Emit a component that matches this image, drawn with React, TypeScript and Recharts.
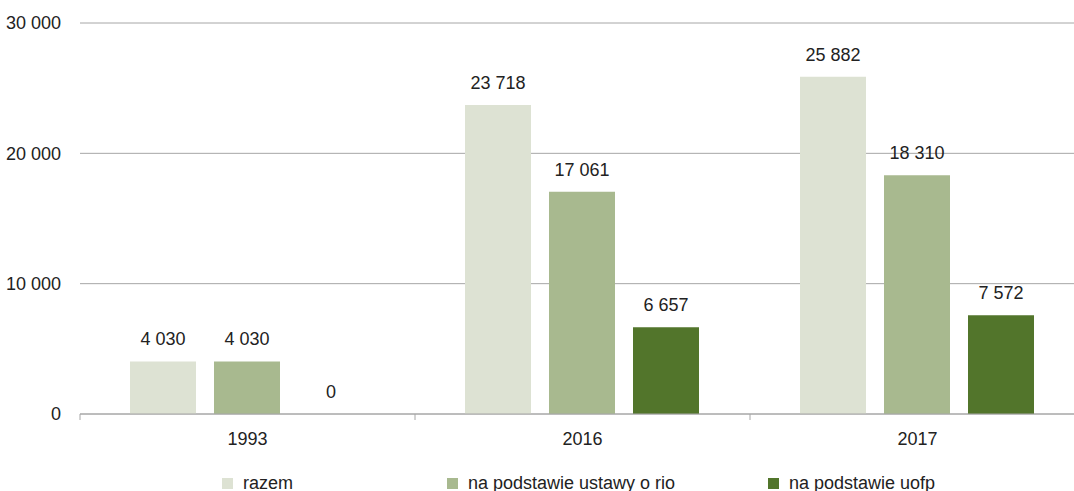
import React from 'react';
import { BarChart, Bar, XAxis, YAxis, CartesianGrid, LabelList } from 'recharts';

const categories = ['1993', '2016', '2017'];
const razem = [4030, 23718, 25882];
const rio = [4030, 17061, 18310];
const uofp = [0, 6657, 7572];
const yTicks = [0, 10000, 20000, 30000];

const seriesNames = ['razem', 'na podstawie ustawy o rio', 'na podstawie uofp'];
const seriesKeys = ['razem', 'rio', 'uofp'];
const seriesColors = ['#dde2d3', '#a8b98f', '#52752b'];
const legendLefts = [222, 447, 768];

const FONT = '"Liberation Sans", Arial, sans-serif';
const TEXT = '#222222';
const GRID = '#a6a6a6';

const data = categories.map((c, i) => ({ cat: c, razem: razem[i], rio: rio[i], uofp: uofp[i] }));

const fmt = (v: any) => String(v).replace(/\B(?=(\d{3})+(?!\d))/g, ' ');

const XTick = (props: any) => {
  const { x, y, payload } = props;
  const off = payload && typeof payload.offset === 'number' ? payload.offset : 167.5;
  return (
    <g>
      <text x={x} y={y + 31} textAnchor="middle" fill={TEXT} fontSize={18} fontFamily={FONT}>
        {payload.value}
      </text>
      <line x1={x - off} x2={x - off} y1={y} y2={y + 6} stroke={GRID} strokeWidth={1} />
    </g>
  );
};

const BarLabel = (props: any) => {
  const { x, y, width, value } = props;
  if (value === undefined || value === null) return null;
  return (
    <text
      x={Number(x) + Number(width) / 2}
      y={Number(y) - 16}
      textAnchor="middle"
      fill={TEXT}
      fontSize={18}
      fontFamily={FONT}
    >
      {fmt(value)}
    </text>
  );
};

const zeroMin = (v: any) => (Number(v) === 0 ? 0.01 : 0);

export default function App() {
  return (
    <div style={{ position: 'fixed', left: 0, top: 0, width: 1074, height: 491, overflow: 'hidden', background: '#fff' }}>
      <BarChart
        width={1090}
        height={491}
        data={data}
        margin={{ top: 23, right: 5, bottom: 0, left: 0 }}
        barCategoryGap={50}
        barGap={18}
      >
        <CartesianGrid horizontal={true} vertical={false} stroke={GRID} />
        <XAxis
          dataKey="cat"
          height={77}
          tickLine={false}
          tickSize={0}
          tickMargin={0}
          axisLine={{ stroke: GRID }}
          tick={<XTick />}
          interval={0}
        />
        <YAxis
          width={80}
          domain={[0, 30000]}
          ticks={yTicks}
          axisLine={false}
          tickLine={false}
          tickSize={0}
          tickMargin={19}
          tickFormatter={fmt}
          tick={{ fill: TEXT, fontSize: 18, fontFamily: FONT }}
        />
        {seriesKeys.map((k, i) => (
          <Bar
            key={k}
            dataKey={k}
            name={seriesNames[i]}
            fill={seriesColors[i]}
            isAnimationActive={false}
            minPointSize={zeroMin as any}
          >
            <LabelList dataKey={k} content={<BarLabel />} />
          </Bar>
        ))}
      </BarChart>
      {seriesNames.map((n, i) => (
        <div
          key={n}
          style={{
            position: 'absolute',
            left: legendLefts[i],
            top: 473,
            height: 20,
            display: 'flex',
            alignItems: 'center',
            fontFamily: FONT,
            fontSize: 18,
            color: TEXT,
            whiteSpace: 'nowrap',
          }}
        >
          <span style={{ display: 'inline-block', width: 11, height: 11, background: seriesColors[i], marginRight: 10 }} />
          <span>{n}</span>
        </div>
      ))}
    </div>
  );
}
